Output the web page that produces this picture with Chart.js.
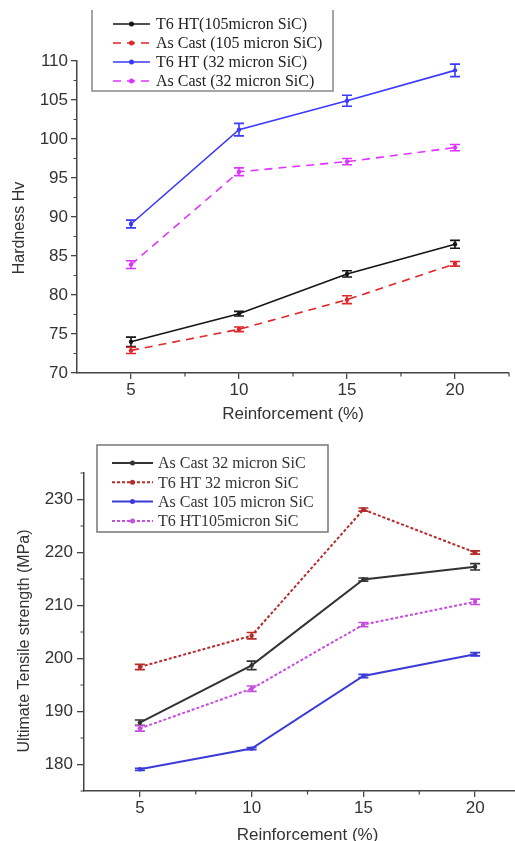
<!DOCTYPE html>
<html>
<head>
<meta charset="utf-8">
<script src="https://cdn.jsdelivr.net/npm/chart.js@4.4.1/dist/chart.umd.min.js"></script>
<style>
  html, body { margin: 0; padding: 0; background: #fff; }
  #page { position: relative; width: 515px; height: 841px; overflow: hidden; }
  #hardness { position: absolute; left: 0; top: 0; }
  #uts { position: absolute; left: 0; top: 420px; }
</style>
</head>
<body>
<div id="page">
  <canvas id="hardness" width="515" height="432"></canvas>
  <canvas id="uts" width="535" height="440"></canvas>
</div>
<script>
// x categories (Reinforcement %)
const reinforcement = [5, 10, 15, 20];
const xMinor = [7.5, 12.5, 17.5, 22.5];

// Hardness Hv
const hvT6_105 = [74.0, 77.6, 82.7, 86.5];
const hvT6_105Err = [0.6, 0.3, 0.4, 0.5];
const hvCast_105 = [72.9, 75.6, 79.4, 84.0];
const hvCast_105Err = [0.4, 0.3, 0.5, 0.3];
const hvT6_32 = [89.1, 101.2, 104.9, 108.8];
const hvT6_32Err = [0.5, 0.8, 0.7, 0.8];
const hvCast_32 = [83.9, 95.8, 97.1, 98.9];
const hvCast_32Err = [0.5, 0.5, 0.4, 0.4];
const hvTicks = [70, 75, 80, 85, 90, 95, 100, 105, 110];
const hvMinor = [72.5, 77.5, 82.5, 87.5, 92.5, 97.5, 102.5, 107.5];

// Ultimate tensile strength (MPa)
const utsCast_32 = [187.9, 198.7, 214.9, 217.3];
const utsCast_32Err = [0.5, 0.8, 0.3, 0.6];
const utsT6_32 = [198.4, 204.3, 228.1, 220.0];
const utsT6_32Err = [0.5, 0.6, 0.3, 0.3];
const utsCast_105 = [179.1, 183.0, 196.7, 200.8];
const utsCast_105Err = [0.2, 0.2, 0.3, 0.3];
const utsT6_105 = [186.8, 194.3, 206.4, 210.7];
const utsT6_105Err = [0.5, 0.5, 0.4, 0.5];
const utsTicks = [180, 190, 200, 210, 220, 230];
const utsMinor = [175, 185, 195, 205, 215, 225, 235];

const pts = ys => ys.map((y, i) => ({ x: reinforcement[i], y }));

// error bars drawn through the chart's own scales
const errorBars = {
  id: 'errorBars',
  afterDatasetsDraw(chart) {
    const { ctx, scales: { x, y } } = chart;
    chart.data.datasets.forEach(ds => {
      if (!ds.errors) return;
      ctx.save();
      ctx.strokeStyle = ds.borderColor;
      ctx.lineWidth = 1.6;
      ctx.setLineDash([]);
      ds.data.forEach((p, i) => {
        const px = x.getPixelForValue(p.x);
        const top = y.getPixelForValue(p.y + ds.errors[i]);
        const bot = y.getPixelForValue(p.y - ds.errors[i]);
        const cap = 5;
        ctx.beginPath();
        ctx.moveTo(px, top); ctx.lineTo(px, bot);
        ctx.moveTo(px - cap, top); ctx.lineTo(px + cap, top);
        ctx.moveTo(px - cap, bot); ctx.lineTo(px + cap, bot);
        ctx.stroke();
      });
      ctx.restore();
    });
  }
};

// short outward minor ticks
const minorTicks = {
  id: 'minorTicks',
  afterDraw(chart, args, opts) {
    const { ctx, scales: { x, y } } = chart;
    ctx.save();
    ctx.strokeStyle = '#444';
    ctx.lineWidth = 1.2;
    ctx.beginPath();
    opts.x.forEach(v => {
      const px = x.getPixelForValue(v);
      ctx.moveTo(px, x.top); ctx.lineTo(px, x.top + 3.5);
    });
    opts.y.forEach(v => {
      const py = y.getPixelForValue(v);
      ctx.moveTo(y.right, py); ctx.lineTo(y.right - 3.5, py);
    });
    ctx.stroke();
    ctx.restore();
  }
};

// rotated y title, placed like the figure (slightly below the axis middle)
const yTitle = {
  id: 'yTitle',
  afterDraw(chart, args, o) {
    const { ctx } = chart;
    ctx.save();
    ctx.translate(o.x, o.y);
    ctx.rotate(-Math.PI / 2);
    ctx.font = o.font;
    ctx.fillStyle = '#333';
    ctx.textAlign = 'center';
    ctx.textBaseline = 'middle';
    ctx.fillText(o.text, 0, 0);
    ctx.restore();
  }
};

// framed legend like the original figure
const boxLegend = {
  id: 'boxLegend',
  afterDraw(chart, args, o) {
    const { ctx } = chart;
    ctx.save();
    ctx.strokeStyle = o.border;
    ctx.lineWidth = 1.5;
    ctx.setLineDash([]);
    ctx.beginPath();
    if (o.topBorder) {
      ctx.rect(o.left, o.top, o.right - o.left, o.bottom - o.top);
    } else {
      ctx.moveTo(o.left, o.top); ctx.lineTo(o.left, o.bottom);
      ctx.lineTo(o.right, o.bottom); ctx.lineTo(o.right, o.top);
    }
    ctx.stroke();
    ctx.font = o.font;
    ctx.textBaseline = 'middle';
    chart.data.datasets.forEach((ds, i) => {
      const cy = o.firstRow + i * o.rowStep;
      ctx.strokeStyle = ds.borderColor;
      ctx.lineWidth = ds.borderWidth;
      ctx.setLineDash(ds.borderDash || []);
      ctx.beginPath();
      ctx.moveTo(o.sampleX1, cy); ctx.lineTo(o.sampleX2, cy);
      ctx.stroke();
      ctx.fillStyle = ds.borderColor;
      ctx.beginPath();
      ctx.arc((o.sampleX1 + o.sampleX2) / 2, cy, 2.5, 0, Math.PI * 2);
      ctx.fill();
      ctx.fillStyle = o.color;
      ctx.fillText(ds.label, o.textX, cy + 1);
    });
    ctx.restore();
  }
};

function series(label, ys, errs, color, dash, width) {
  return {
    label,
    data: pts(ys),
    errors: errs,
    borderColor: color,
    backgroundColor: color,
    borderWidth: width,
    borderDash: dash,
    pointRadius: 2.2,
    pointBorderWidth: 0,
    pointBackgroundColor: color,
    tension: 0
  };
}

function makeChart(id, c) {
  return new Chart(document.getElementById(id), {
    type: 'line',
    data: { datasets: c.datasets },
    options: {
      responsive: false,
      animation: false,
      layout: { padding: c.padding },
      plugins: {
        legend: { display: false },
        tooltip: { enabled: false },
        minorTicks: { x: xMinor, y: c.yMinor },
        boxLegend: c.legend,
        yTitle: c.yTitle
      },
      scales: {
        x: {
          type: 'linear',
          min: 2.5,
          max: 22.5,
          afterBuildTicks: s => { s.ticks = reinforcement.map(v => ({ value: v })); },
          afterFit: s => { s.height = c.xHeight; },
          grid: { drawOnChartArea: false, tickLength: 6, color: '#444', lineWidth: 1.3 },
          border: { color: '#444', width: 1.5 },
          ticks: { font: { family: 'Liberation Sans', size: 17 }, color: '#333', padding: 1, maxRotation: 0 },
          title: {
            display: true,
            text: 'Reinforcement (%)',
            font: { family: 'Liberation Sans', size: 17 },
            color: '#333',
            padding: { top: 0, bottom: c.xTitlePad }
          }
        },
        y: {
          type: 'linear',
          min: c.yMin,
          max: c.yMax,
          afterBuildTicks: s => { s.ticks = c.yTicks.map(v => ({ value: v })); },
          afterFit: s => { s.width = c.yWidth; },
          grid: { drawOnChartArea: false, tickLength: c.yTickLen, color: '#444', lineWidth: 1.3 },
          border: { color: '#444', width: 1.5 },
          ticks: { font: { family: 'Liberation Sans', size: 17 }, color: '#333', padding: c.yTickPad }
        }
      }
    },
    plugins: [errorBars, minorTicks, boxLegend, yTitle]
  });
}

makeChart('hardness', {
  datasets: [
    series('T6 HT(105micron SiC)', hvT6_105, hvT6_105Err, '#151515', [], 1.6),
    series('As Cast (105 micron SiC)', hvCast_105, hvCast_105Err, '#e0262a', [8, 6], 1.6),
    series('T6 HT (32 micron SiC)', hvT6_32, hvT6_32Err, '#3a3aff', [], 1.6),
    series('As Cast (32 micron SiC)', hvCast_32, hvCast_32Err, '#e033ff', [8, 6], 1.6)
  ],
  padding: { top: 61, right: 6, left: 0, bottom: 0 },
  xHeight: 59,
  xTitlePad: 7,
  yMin: 70, yMax: 110,
  yTicks: hvTicks,
  yMinor: hvMinor,
  yWidth: 77,
  yTickLen: 6,
  yTickPad: 3,
  yTitle: { text: 'Hardness Hv', x: 20, y: 228, font: '16px "Liberation Sans"' },
  legend: {
    left: 92, right: 333, top: 10, bottom: 91, topBorder: false,
    border: '#888', firstRow: 24, rowStep: 19,
    sampleX1: 113, sampleX2: 150, textX: 156,
    font: '16px "Liberation Serif"', color: '#222'
  }
});

makeChart('uts', {
  datasets: [
    series('As Cast 32 micron SiC', utsCast_32, utsCast_32Err, '#333333', [], 2),
    series('T6 HT 32 micron SiC', utsT6_32, utsT6_32Err, '#b52a2a', [3, 2], 2),
    series('As Cast 105 micron SiC', utsCast_105, utsCast_105Err, '#3b3bd6', [], 2),
    series('T6 HT105micron SiC', utsT6_105, utsT6_105Err, '#c64de0', [3, 2], 2)
  ],
  padding: { top: 53, right: 3, left: 0, bottom: 0 },
  xHeight: 69,
  xTitlePad: 14,
  yMin: 175, yMax: 235,
  yTicks: utsTicks,
  yMinor: utsMinor,
  yWidth: 84,
  yTickLen: 7,
  yTickPad: 4,
  yTitle: { text: 'Ultimate Tensile strength (MPa)', x: 25, y: 221, font: '16px "Liberation Sans"' },
  legend: {
    left: 97, right: 328, top: 25, bottom: 112, topBorder: true,
    border: '#777', firstRow: 43, rowStep: 19.3,
    sampleX1: 112, sampleX2: 153, textX: 158,
    font: '16px "Liberation Serif"', color: '#333'
  }
});
</script>
</body>
</html>
